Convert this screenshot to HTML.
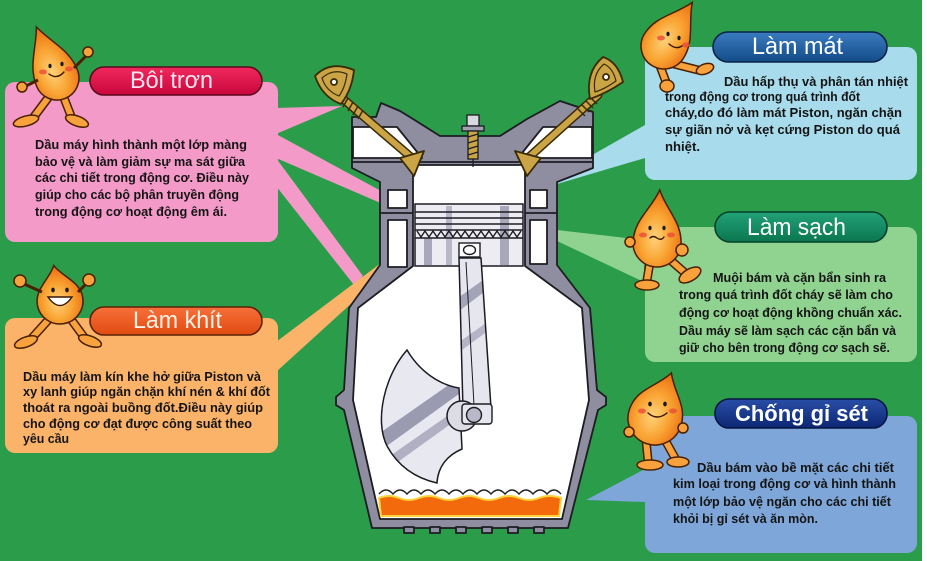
<!DOCTYPE html>
<html><head><meta charset="utf-8">
<style>
html,body{margin:0;padding:0;background:#fff;}
svg{display:block;}
.t{font-family:"Liberation Sans","DejaVu Sans",sans-serif;font-weight:bold;font-size:13px;fill:#141414;}
.h{font-family:"Liberation Sans","DejaVu Sans",sans-serif;font-size:24px;}
</style></head><body>
<svg width="927" height="561" viewBox="0 0 927 561" xmlns="http://www.w3.org/2000/svg">
<defs>
<radialGradient id="drop" cx="45%" cy="62%" r="60%">
<stop offset="0" stop-color="#ffd27a"/><stop offset="0.5" stop-color="#f9a534"/><stop offset="1" stop-color="#ec6e12"/>
</radialGradient>
<linearGradient id="pp" x1="0" y1="0" x2="0" y2="1"><stop offset="0" stop-color="#f0285e"/><stop offset="1" stop-color="#c9073c"/></linearGradient>
<linearGradient id="po" x1="0" y1="0" x2="0" y2="1"><stop offset="0" stop-color="#f8703a"/><stop offset="1" stop-color="#e04a10"/></linearGradient>
<linearGradient id="pb" x1="0" y1="0" x2="0" y2="1"><stop offset="0" stop-color="#3a7cc0"/><stop offset="1" stop-color="#134b88"/></linearGradient>
<linearGradient id="pg" x1="0" y1="0" x2="0" y2="1"><stop offset="0" stop-color="#22a277"/><stop offset="1" stop-color="#0a7650"/></linearGradient>
<linearGradient id="pn" x1="0" y1="0" x2="0" y2="1"><stop offset="0" stop-color="#2a4ea6"/><stop offset="1" stop-color="#0c2774"/></linearGradient>
<clipPath id="cw"><path d="M407 350 C385 375 374 420 387 446 C398 466 415 478 437 483 C438 466 448 455 462 449 L459 388 C440 385 420 372 407 350 Z"/></clipPath>
<clipPath id="rod"><polygon points="459,258 481,258 491,408 463,410"/></clipPath>
</defs>

<rect width="927" height="561" fill="#fff"/>
<rect width="922" height="561" fill="#2b9c4a"/>

<!-- rays -->
<polygon points="276,108 276,134 342,106" fill="#f49ac8"/>
<polygon points="276,134 276,158 383,204 383,192" fill="#f49ac8"/>
<polygon points="276,158 276,186 354,285 363,276" fill="#f49ac8"/>
<polygon points="276,342 276,372 386,272 381,263" fill="#fbb36a"/>
<polygon points="645,125 645,158 557,184 557,175" fill="#a8dcec"/>
<polygon points="557,230 557,241 644,282 644,240" fill="#90d290"/>
<polygon points="586,500 645,469 645,502" fill="#7ea6d8"/>

<!-- boxes -->
<rect x="5" y="82" width="273" height="160" rx="10" fill="#f49ac8"/>
<rect x="5" y="318" width="273" height="135" rx="10" fill="#fbb36a"/>
<rect x="645" y="47" width="272" height="133" rx="10" fill="#a8dcec"/>
<rect x="645" y="227" width="272" height="135" rx="10" fill="#90d290"/>
<rect x="645" y="416" width="272" height="137" rx="10" fill="#7ea6d8"/>

<!-- pills -->
<rect x="90" y="67" width="172" height="28" rx="14" fill="url(#pp)" stroke="#5a0a1c" stroke-width="1.6"/>
<rect x="90" y="307" width="172" height="28" rx="14" fill="url(#po)" stroke="#5a2206" stroke-width="1.6"/>
<rect x="713" y="32" width="174" height="30" rx="15" fill="url(#pb)" stroke="#0a2448" stroke-width="1.6"/>
<rect x="715" y="212" width="172" height="30" rx="15" fill="url(#pg)" stroke="#06402a" stroke-width="1.6"/>
<rect x="715" y="399" width="172" height="29" rx="14" fill="url(#pn)" stroke="#061640" stroke-width="1.6"/>

<!-- ENGINE -->
<g stroke="#1c1c22" stroke-width="1.8" stroke-linejoin="round">
<polygon fill="#8e8ea0" points="352,117 376,117 381,103 400,111 413,119 440,136 500,136 527,119 560,101 593,112 593,168 557,182 557,265 590,308 597,390 606,397 606,405 598,410 568,528 372,528 344,410 336,405 336,397 344,390 349,308 380,265 380,182 352,168"/>
<polygon fill="#fff" points="353,127 397,127 422,158 353,158"/>
<polygon fill="#fff" points="543,127 592,127 592,158 518,158"/>
<line x1="352" y1="162" x2="593" y2="162"/>
<polygon fill="#fff" points="413,165 525,165 525,266 582,308 589,400 562,519 380,519 353,400 358,308 413,266"/>
<rect x="388" y="190" width="19" height="18" fill="#fff"/>
<rect x="388" y="220" width="19" height="47" fill="#fff"/>
<rect x="530" y="190" width="17" height="18" fill="#fff"/>
<rect x="530" y="220" width="17" height="44" fill="#fff"/>
<line x1="380" y1="213" x2="413" y2="213"/>
<line x1="525" y1="213" x2="557" y2="213"/>
<rect x="404" y="527" width="10" height="6" fill="#8e8ea0"/>
<rect x="430" y="527" width="10" height="6" fill="#8e8ea0"/>
<rect x="456" y="527" width="10" height="6" fill="#8e8ea0"/>
<rect x="482" y="527" width="10" height="6" fill="#8e8ea0"/>
<rect x="508" y="527" width="10" height="6" fill="#8e8ea0"/>
<rect x="534" y="527" width="10" height="6" fill="#8e8ea0"/>
</g>

<!-- oil -->
<path d="M379,494 q7,-8 14,0 q7,-8 14,0 q7,-8 14,0 q7,-8 14,0 q7,-8 14,0 q7,-8 14,0 q7,-8 14,0 q7,-8 14,0 q7,-8 14,0 q7,-8 14,0 q7,-8 14,0 q7,-8 14,0 q7,-8 14,0" fill="none" stroke="#222" stroke-width="1.4"/>
<path d="M379,498 q10,-4 20,0 t20,0 t20,0 t20,0 t20,0 t20,0 t20,0 t20,0 t22,0 L559,516 L381,516 Z" fill="#f36a0c" stroke="#ffd23a" stroke-width="2"/>

<!-- piston -->
<g stroke="#1c1c22" stroke-width="1.5">
<rect x="415" y="204" width="108" height="62" fill="#ececf2"/>
</g>
<rect x="424" y="238" width="8" height="27" fill="#a8a8ba"/>
<rect x="446" y="206" width="6" height="59" fill="#b8b8c8"/>
<rect x="500" y="206" width="9" height="59" fill="#a8a8ba"/>
<g stroke="#1c1c22" stroke-width="1.4" fill="none">
<line x1="415" y1="212" x2="523" y2="212"/>
<line x1="415" y1="218" x2="523" y2="218"/>
<line x1="415" y1="224" x2="523" y2="224"/>
<line x1="415" y1="230" x2="523" y2="230"/>
<line x1="415" y1="238" x2="523" y2="238"/>
<path d="M417,231 l4,6 l4,-6 l4,6 l4,-6 l4,6 l4,-6 l4,6 l4,-6 l4,6 l4,-6 l4,6 l4,-6 l4,6 l4,-6 l4,6 l4,-6 l4,6 l4,-6 l4,6 l4,-6 l4,6 l4,-6 l4,6 l4,-6 l4,6 l4,-6"/>
<rect x="459" y="243" width="21" height="14" fill="#fff"/>
<ellipse cx="469.5" cy="250" rx="6" ry="4.5" fill="#fff"/>
</g>

<!-- rod -->
<polygon points="459,258 481,258 491,408 463,410" fill="#e6e6ee"/>
<g clip-path="url(#rod)">
<polygon points="455,300 500,268 500,280 455,314" fill="#a4a4b8"/>
<polygon points="455,345 500,313 500,322 455,355" fill="#b4b4c6"/>
</g>
<polygon points="459,258 481,258 491,408 463,410" fill="none" stroke="#1c1c22" stroke-width="1.5"/>
<line x1="466" y1="262" x2="474" y2="405" stroke="#1c1c22" stroke-width="1"/>

<!-- counterweight -->
<path d="M407 350 C385 375 374 420 387 446 C398 466 415 478 437 483 C438 466 448 455 462 449 L459 388 C440 385 420 372 407 350 Z" fill="#e8e8f0"/>
<g clip-path="url(#cw)">
<polygon points="370,440 470,370 470,386 370,458" fill="#9a9ab0"/>
<polygon points="370,470 470,400 470,410 370,482" fill="#b0b0c2"/>
</g>
<path d="M407 350 C385 375 374 420 387 446 C398 466 415 478 437 483 C438 466 448 455 462 449 L459 388 C440 385 420 372 407 350 Z" fill="none" stroke="#1c1c22" stroke-width="1.5"/>
<circle cx="462" cy="416" r="15" fill="#dcdce6" stroke="#1c1c22" stroke-width="1.5"/>
<rect x="462" y="404" width="30" height="20" rx="3" fill="#e6e6ee" stroke="#1c1c22" stroke-width="1.4"/>
<circle cx="474" cy="415" r="7.5" fill="#b8b8c8" stroke="#1c1c22" stroke-width="1.4"/>

<!-- valves -->
<g stroke-linecap="round">
<line x1="342" y1="98" x2="412" y2="158" stroke="#3a2a06" stroke-width="9"/>
<line x1="342" y1="98" x2="412" y2="158" stroke="#caa445" stroke-width="6"/>
<line x1="598" y1="95" x2="528" y2="158" stroke="#3a2a06" stroke-width="9"/>
<line x1="598" y1="95" x2="528" y2="158" stroke="#caa445" stroke-width="6"/>
</g>
<g stroke="#3a2a06" stroke-width="1.5">
<line x1="348" y1="98" x2="343" y2="107"/><line x1="353" y1="102" x2="348" y2="111"/><line x1="358" y1="106" x2="353" y2="115"/><line x1="363" y1="110" x2="358" y2="119"/>
<line x1="590" y1="97" x2="597" y2="104"/><line x1="586" y1="101" x2="593" y2="108"/><line x1="582" y1="105" x2="589" y2="112"/><line x1="578" y1="109" x2="585" y2="116"/>
</g>
<g stroke="#3a2a06" stroke-width="1.8" stroke-linejoin="round">
<path d="M315 76 Q330 60 354 70 Q352 90 341 104 Q322 97 315 76 Z" fill="#caa445"/>
<path d="M322 78 Q333 68 347 74 Q345 88 339 96 Q326 91 322 78 Z" fill="none" stroke-width="1.2"/>
<circle cx="334" cy="82" r="3" fill="#fff"/>
<path d="M590 99 Q585 72 603 57 Q618 62 623 82 Q607 93 590 99 Z" fill="#caa445"/>
<path d="M595 92 Q592 74 604 64 Q613 68 616 81 Q605 89 595 92 Z" fill="none" stroke-width="1.2"/>
<circle cx="606" cy="77" r="3" fill="#fff"/>
<polygon points="400,158 424,151 414,176" fill="#caa445"/>
<polygon points="515,151 541,158 527,176" fill="#caa445"/>
</g>
<!-- spark plug -->
<g stroke="#1c1c22" stroke-width="1.3">
<rect x="467" y="115" width="12" height="11" fill="#d8d8e0"/>
<rect x="462" y="126" width="22" height="5" fill="#a0a0b0"/>
<rect x="468" y="131" width="10" height="28" fill="#caa445"/>
<line x1="468" y1="137" x2="478" y2="134"/><line x1="468" y1="143" x2="478" y2="140"/><line x1="468" y1="149" x2="478" y2="146"/><line x1="468" y1="155" x2="478" y2="152"/>
<line x1="473" y1="159" x2="473" y2="167"/>
</g>

<!-- MASCOTS -->
<g stroke="#4a2000" stroke-width="1.5">
<g stroke-linecap="round">
<line x1="48" y1="98" x2="33" y2="118" stroke="#4a2000" stroke-width="9"/><line x1="48" y1="98" x2="33" y2="118" stroke="#f7a23c" stroke-width="6"/>
<line x1="64" y1="98" x2="71" y2="116" stroke="#4a2000" stroke-width="9"/><line x1="64" y1="98" x2="71" y2="116" stroke="#f7a23c" stroke-width="6"/>
</g>
<ellipse cx="26" cy="121" rx="13" ry="5" transform="rotate(-15 26 121)" fill="#f7a23c"/>
<ellipse cx="77" cy="121" rx="12" ry="5" transform="rotate(20 77 121)" fill="#f7a23c"/>
<path transform="translate(57,78) rotate(-22)" d="M0 -55 C8 -35 22 -22 22 0 A22 22 0 0 1 -22 0 C-22 -22 -8 -35 0 -55 Z" fill="url(#drop)"/>
<line x1="74" y1="68" x2="86" y2="56" stroke-width="3"/>
<circle cx="88" cy="52" r="5" fill="#f7a23c"/>
<line x1="38" y1="80" x2="26" y2="86" stroke-width="3"/>
<circle cx="22" cy="87" r="5" fill="#f7a23c"/>
<g stroke-linecap="round">
<line x1="50" y1="318" x2="32" y2="338" stroke="#4a2000" stroke-width="9"/><line x1="50" y1="318" x2="32" y2="338" stroke="#f7a23c" stroke-width="6"/>
<line x1="70" y1="318" x2="84" y2="337" stroke="#4a2000" stroke-width="9"/><line x1="70" y1="318" x2="84" y2="337" stroke="#f7a23c" stroke-width="6"/>
</g>
<ellipse cx="26" cy="342" rx="12" ry="5" transform="rotate(-20 26 342)" fill="#f7a23c"/>
<ellipse cx="90" cy="341" rx="12" ry="5" transform="rotate(20 90 341)" fill="#f7a23c"/>
<path transform="translate(60,301) rotate(-10)" d="M0 -36 C6 -24 23 -16 23 0 A23 23 0 0 1 -23 0 C-23 -16 -6 -24 0 -36 Z" fill="url(#drop)"/>
<line x1="42" y1="292" x2="24" y2="284" stroke-width="3"/>
<circle cx="20" cy="281" r="6" fill="#f7a23c"/>
<line x1="78" y1="292" x2="86" y2="284" stroke-width="3"/>
<circle cx="89" cy="280" r="6" fill="#f7a23c"/>
<g stroke-linecap="round">
<line x1="660" y1="66" x2="666" y2="82" stroke="#4a2000" stroke-width="9"/><line x1="660" y1="66" x2="666" y2="82" stroke="#f7a23c" stroke-width="6"/>
<line x1="674" y1="64" x2="698" y2="70" stroke="#4a2000" stroke-width="9"/><line x1="674" y1="64" x2="698" y2="70" stroke="#f7a23c" stroke-width="6"/>
</g>
<ellipse cx="667" cy="86" rx="7" ry="6" fill="#f7a23c"/>
<ellipse cx="705" cy="69" rx="9" ry="5" transform="rotate(-20 705 69)" fill="#f7a23c"/>
<path transform="translate(664,46) rotate(33)" d="M0 -52 C8 -32 23 -21 23 0 A23 23 0 0 1 -23 0 C-23 -21 -8 -32 0 -52 Z" fill="url(#drop)"/>
<g stroke-linecap="round">
<line x1="650" y1="262" x2="647" y2="280" stroke="#4a2000" stroke-width="9"/><line x1="650" y1="262" x2="647" y2="280" stroke="#f7a23c" stroke-width="6"/>
<line x1="668" y1="258" x2="684" y2="272" stroke="#4a2000" stroke-width="9"/><line x1="668" y1="258" x2="684" y2="272" stroke="#f7a23c" stroke-width="6"/>
</g>
<ellipse cx="647" cy="285" rx="12" ry="5" fill="#f7a23c"/>
<ellipse cx="690" cy="275" rx="12" ry="6" transform="rotate(-30 690 275)" fill="#f7a23c"/>
<path transform="translate(657,243) rotate(3)" d="M0 -53 C8 -33 24 -22 24 0 A24 24 0 0 1 -24 0 C-24 -22 -8 -33 0 -53 Z" fill="url(#drop)"/>
<circle cx="630" cy="242" r="5" fill="#f7a23c"/>
<circle cx="682" cy="250" r="6" fill="#f7a23c"/>
<g stroke-linecap="round">
<line x1="646" y1="440" x2="648" y2="460" stroke="#4a2000" stroke-width="9"/><line x1="646" y1="440" x2="648" y2="460" stroke="#f7a23c" stroke-width="6"/>
<line x1="665" y1="440" x2="675" y2="458" stroke="#4a2000" stroke-width="9"/><line x1="665" y1="440" x2="675" y2="458" stroke="#f7a23c" stroke-width="6"/>
</g>
<ellipse cx="650" cy="465" rx="13" ry="5" fill="#f7a23c"/>
<ellipse cx="678" cy="462" rx="11" ry="5" fill="#f7a23c"/>
<path transform="translate(655,418) rotate(20)" d="M0 -48 C9 -30 27 -22 27 0 A27 27 0 0 1 -27 0 C-27 -22 -9 -30 0 -48 Z" fill="url(#drop)"/>
<circle cx="629" cy="432" r="5" fill="#f7a23c"/>
<circle cx="683" cy="428" r="5" fill="#f7a23c"/>
</g>
<g fill="#1a1a1a">
<ellipse cx="50" cy="66" rx="1.6" ry="2.2"/><ellipse cx="62" cy="64" rx="1.6" ry="2.2"/>
<ellipse cx="53" cy="290" rx="1.8" ry="2.4"/><ellipse cx="67" cy="290" rx="1.8" ry="2.4"/>
<ellipse cx="668" cy="34" rx="1.6" ry="2.2"/><ellipse cx="679" cy="38" rx="1.6" ry="2.2"/>
<ellipse cx="650" cy="228" rx="1.6" ry="2.2"/><ellipse cx="664" cy="228" rx="1.6" ry="2.2"/>
<ellipse cx="650" cy="404" rx="1.8" ry="2.4"/><ellipse cx="665" cy="404" rx="1.8" ry="2.4"/>
</g>
<g fill="#ee4a3a" opacity="0.8">
<ellipse cx="43" cy="72" rx="4" ry="2.5"/><ellipse cx="69" cy="69" rx="4" ry="2.5"/>
<ellipse cx="661" cy="38" rx="4" ry="2.5"/><ellipse cx="686" cy="45" rx="4" ry="2.5"/>
<ellipse cx="643" cy="235" rx="4" ry="2.5"/><ellipse cx="671" cy="235" rx="4" ry="2.5"/>
<ellipse cx="642" cy="411" rx="4" ry="2.5"/><ellipse cx="673" cy="411" rx="4" ry="2.5"/>
</g>
<g fill="none" stroke="#3a1600" stroke-width="1.4" stroke-linecap="round">
<path d="M49 74 Q57 80 64 72"/>
<path d="M669 44 Q676 50 682 46"/>
<path d="M650 238 Q653 235 657 238 Q661 241 664 237"/>
<path d="M648 413 Q657 421 667 413"/>
</g>
<path d="M48 297 Q60 314 72 297 Z" fill="#fff" stroke="#3a1600" stroke-width="1.4"/>

<!-- TITLES -->
<text class="h" x="130" y="88" textLength="83" lengthAdjust="spacingAndGlyphs" fill="#fde4ee">Bôi trơn</text>
<text class="h" x="133" y="328" textLength="89" lengthAdjust="spacingAndGlyphs" fill="#fff3e8">Làm khít</text>
<text class="h" x="752" y="54" textLength="91" lengthAdjust="spacingAndGlyphs" fill="#ffffff">Làm mát</text>
<text class="h" x="747" y="235" textLength="99" lengthAdjust="spacingAndGlyphs" fill="#ffffff">Làm sạch</text>
<text class="h" x="735" y="421" textLength="133" lengthAdjust="spacingAndGlyphs" fill="#ffffff" style="font-weight:bold;font-size:22px">Chống gỉ sét</text>

<!-- BODY TEXT -->
<text class="t" x="35" y="149" textLength="212" lengthAdjust="spacingAndGlyphs">Dầu máy hình thành một lớp màng</text>
<text class="t" x="35" y="166" textLength="210" lengthAdjust="spacingAndGlyphs">bảo vệ và làm giảm sự ma sát giữa</text>
<text class="t" x="35" y="182" textLength="214" lengthAdjust="spacingAndGlyphs">các chi tiết trong động cơ. Điều này</text>
<text class="t" x="35" y="199" textLength="204" lengthAdjust="spacingAndGlyphs">giúp cho các bộ phân truyền động</text>
<text class="t" x="35" y="216" textLength="192" lengthAdjust="spacingAndGlyphs">trong động cơ hoạt động êm ái.</text>

<text class="t" x="23" y="381" textLength="238" lengthAdjust="spacingAndGlyphs">Dầu máy làm kín khe hở giữa Piston và</text>
<text class="t" x="23" y="396" textLength="247" lengthAdjust="spacingAndGlyphs">xy lanh giúp ngăn chặn khí nén &amp; khí đốt</text>
<text class="t" x="23" y="412" textLength="240" lengthAdjust="spacingAndGlyphs">thoát ra ngoài buồng đốt.Điều này giúp</text>
<text class="t" x="23" y="428" textLength="229" lengthAdjust="spacingAndGlyphs">cho động cơ đạt được công suất theo</text>
<text class="t" x="23" y="443" textLength="46" lengthAdjust="spacingAndGlyphs">yêu cầu</text>

<text class="t" x="724" y="86" textLength="184" lengthAdjust="spacingAndGlyphs">Dầu hấp thụ và phân tán nhiệt</text>
<text class="t" x="665" y="101" textLength="195" lengthAdjust="spacingAndGlyphs">trong động cơ trong quá trình đốt</text>
<text class="t" x="665" y="117" textLength="237" lengthAdjust="spacingAndGlyphs">cháy,do đó làm mát Piston, ngăn chặn</text>
<text class="t" x="665" y="134" textLength="235" lengthAdjust="spacingAndGlyphs">sự giãn nở và kẹt cứng Piston do quá</text>
<text class="t" x="665" y="151" textLength="35" lengthAdjust="spacingAndGlyphs">nhiệt.</text>

<text class="t" x="713" y="282" textLength="173" lengthAdjust="spacingAndGlyphs">Muội bám và cặn bẩn sinh ra</text>
<text class="t" x="679" y="299" textLength="214" lengthAdjust="spacingAndGlyphs">trong quá trình đốt cháy sẽ làm cho</text>
<text class="t" x="679" y="317" textLength="223" lengthAdjust="spacingAndGlyphs">động cơ hoạt động khồng chuẩn xác.</text>
<text class="t" x="679" y="335" textLength="217" lengthAdjust="spacingAndGlyphs">Dầu máy sẽ làm sạch các cặn bẩn và</text>
<text class="t" x="679" y="352" textLength="211" lengthAdjust="spacingAndGlyphs">giữ cho bên trong động cơ sạch sẽ.</text>

<text class="t" x="697" y="472" textLength="197" lengthAdjust="spacingAndGlyphs">Dầu bám vào bề mặt các chi tiết</text>
<text class="t" x="673" y="488" textLength="223" lengthAdjust="spacingAndGlyphs">kim loại trong động cơ và hình thành</text>
<text class="t" x="673" y="506" textLength="218" lengthAdjust="spacingAndGlyphs">một lớp bảo vệ ngăn cho các chi tiết</text>
<text class="t" x="673" y="523" textLength="145" lengthAdjust="spacingAndGlyphs">khỏi bị gỉ sét và ăn mòn.</text>
</svg>
</body></html>
